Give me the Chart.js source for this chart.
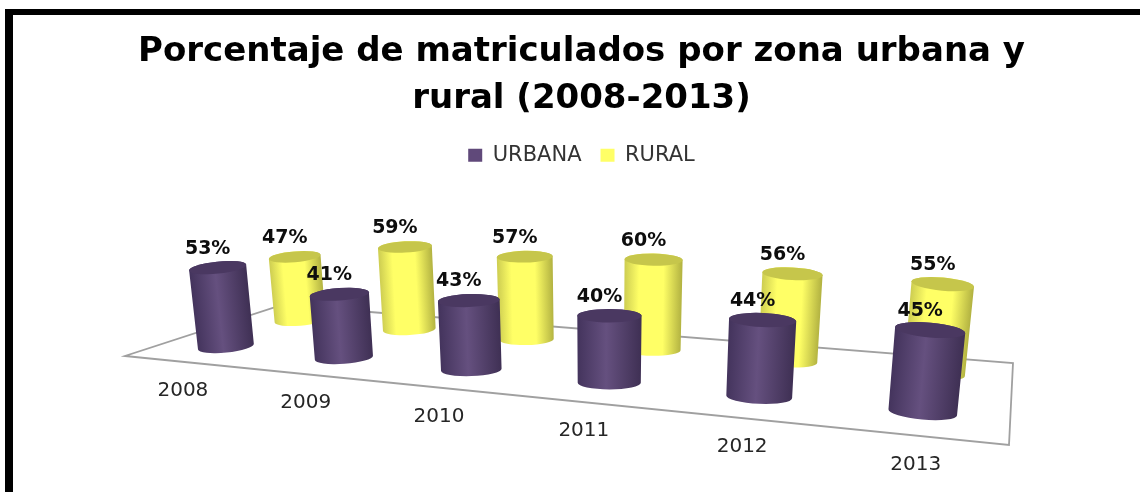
<!DOCTYPE html>
<html>
<head>
<meta charset="utf-8">
<style>
  html, body { margin: 0; background: #fff; }
  canvas { display: block; }
</style>
<script src="https://cdn.jsdelivr.net/npm/chart.js@4"></script>
</head>
<body>
<canvas id="chart" width="1140" height="492"></canvas>
<script>
const years = ['2008', '2009', '2010', '2011', '2012', '2013'];
const urbana = [53, 41, 43, 40, 44, 45];
const rural = [47, 59, 57, 60, 56, 55];

// floor corners on screen: front-left, front-right, back-right, back-left
const floorQuad = [[125, 356], [1009, 445], [1013, 363], [282, 305]];
const LIFT = 154;       // screen height of a 100% bar where w = 1
const TILT = 0.00028;   // bars lean outwards from x = 600

const looks = [
  { depth: 0.25, top: '#4a3861', stops: [[0, '#44345d'], [0.45, '#65507f'], [1, '#3f3054']] },
  { depth: 0.75, top: '#c6c64b', stops: [[0, '#cfcf52'], [0.25, '#ffff66'], [0.68, '#ffff66'], [1, '#b4b442']] }
];

// unit square -> screen quad
function makeFloor(q) {
  const [[x0, y0], [x1, y1], [x2, y2], [x3, y3]] = q;
  const dx1 = x1 - x2, dx2 = x3 - x2, sx = x0 - x1 + x2 - x3;
  const dy1 = y1 - y2, dy2 = y3 - y2, sy = y0 - y1 + y2 - y3;
  const den = dx1 * dy2 - dx2 * dy1;
  const g = (sx * dy2 - dx2 * sy) / den;
  const h = (dx1 * sy - sx * dy1) / den;
  const a = x1 - x0 + g * x1, b = x3 - x0 + h * x3;
  const d = y1 - y0 + g * y1, e = y3 - y0 + h * y3;
  return (u, v) => {
    const w = g * u + h * v + 1;
    return { x: (a * u + b * v + x0) / w, y: (d * u + e * v + y0) / w, w, unitX: a / w };
  };
}
const floor = makeFloor(floorQuad);

function drawCylinder(ctx, el, area, look) {
  const u = (el.x - area.left) / area.width;
  const p = floor(u, look.depth);
  const h = (el.base - el.y) / area.height * LIFT / p.w;
  const spread = (p.x - 600) * TILT;
  const top = { x: p.x + spread * h, y: p.y - h };
  const rot = Math.atan2(top.x - p.x, h);
  const rb = el.width / 2 / area.width * p.unitX;
  const rt = rb * (1 + h * TILT);
  const cos = Math.cos(rot), sin = Math.sin(rot);

  const grad = ctx.createLinearGradient(p.x - rb * cos, p.y - rb * sin, p.x + rb * cos, p.y + rb * sin);
  look.stops.forEach(s => grad.addColorStop(s[0], s[1]));

  ctx.beginPath();
  ctx.ellipse(p.x, p.y, rb, rb * 0.21, rot, 0, Math.PI);
  ctx.ellipse(top.x, top.y, rt, rt * 0.21, rot, Math.PI, Math.PI * 2);
  ctx.closePath();
  ctx.fillStyle = grad;
  ctx.fill();

  ctx.beginPath();
  ctx.ellipse(top.x, top.y, rt, rt * 0.21, rot, 0, Math.PI * 2);
  ctx.fillStyle = look.top;
  ctx.fill();
  return top;
}

const perspective = {
  id: 'perspective',
  beforeDraw(chart) {
    const ctx = chart.ctx;
    ctx.save();
    ctx.fillStyle = '#000';
    ctx.fillRect(5, 9, 8, chart.height - 9);
    ctx.fillRect(5, 9, chart.width - 5, 6);
    ctx.restore();
  },
  beforeDatasetsDraw(chart) {
    const ctx = chart.ctx, area = chart.chartArea;
    ctx.save();

    // floor outline
    ctx.beginPath();
    [[0, 0], [1, 0], [1, 1], [0, 1]].forEach(c => {
      const p = floor(c[0], c[1]);
      ctx.lineTo(p.x, p.y);
    });
    ctx.closePath();
    ctx.strokeStyle = '#a0a0a0';
    ctx.lineWidth = 1.8;
    ctx.stroke();

    // year labels under the front edge
    ctx.font = '20px "DejaVu Sans"';
    ctx.fillStyle = '#262626';
    ctx.textAlign = 'center';
    ctx.textBaseline = 'middle';
    const first = chart.getDatasetMeta(0).data;
    first.forEach((el, i) => {
      const p = floor((el.x - area.left) / area.width, 0);
      ctx.fillText(chart.data.labels[i], p.x, p.y + 29);
    });

    // back row first, then front row, value labels on top of everything
    const tops = [];
    [1, 0].forEach(di => {
      chart.getDatasetMeta(di).data.forEach((el, i) => {
        const top = drawCylinder(ctx, el, area, looks[di]);
        tops.push({ x: top.x, y: top.y, value: chart.data.datasets[di].data[i] });
      });
    });

    ctx.font = 'bold 19px "DejaVu Sans"';
    ctx.fillStyle = '#0d0d0d';
    tops.forEach(t => ctx.fillText(t.value + '%', t.x - 10, t.y - 19));

    ctx.restore();
    return false;
  }
};

new Chart(document.getElementById('chart'), {
  type: 'bar',
  data: {
    labels: years,
    datasets: [
      { label: 'URBANA', data: urbana, backgroundColor: '#60497a', barPercentage: 0.533, categoryPercentage: 1, grouped: false },
      { label: 'RURAL', data: rural, backgroundColor: '#ffff66', barPercentage: 0.533, categoryPercentage: 1, grouped: false }
    ]
  },
  options: {
    responsive: false,
    animation: false,
    layout: { padding: { left: 23, top: 29 } },
    scales: {
      x: { display: false },
      y: { display: false, min: 0, max: 100 }
    },
    plugins: {
      tooltip: { enabled: false },
      title: {
        display: true,
        text: ['Porcentaje de matriculados por zona urbana y', 'rural (2008-2013)'],
        color: '#000',
        font: { family: '"DejaVu Sans"', size: 34, weight: 'bold', lineHeight: 1.38 },
        padding: { top: 0, bottom: 3 }
      },
      legend: {
        position: 'top',
        labels: {
          boxWidth: 14,
          boxHeight: 13,
          padding: 19,
          color: '#333',
          font: { family: '"DejaVu Sans"', size: 21 }
        }
      }
    }
  },
  plugins: [perspective]
});
</script>
</body>
</html>
